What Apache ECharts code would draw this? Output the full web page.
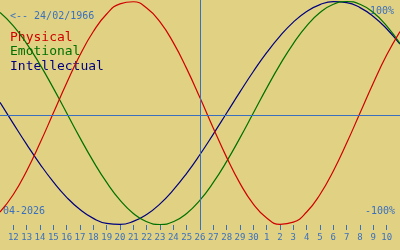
<!DOCTYPE html>
<html>
<head>
<meta charset="utf-8">
<script src="https://cdn.jsdelivr.net/npm/echarts@6/dist/echarts.min.js"></script>
<style>
html,body{margin:0;padding:0;background:#e0d282;}
#chart{width:400px;height:250px;}
</style>
</head>
<body>
<div id="chart"></div>
<script>
// day offset 0 = 11 April 2026 ... 30 = 11 May 2026
const dayOffsets = [0,1,2,3,4,5,6,7,8,9,10,11,12,13,14,15,16,17,18,19,20,21,22,23,24,25,26,27,28,29,30];
const dayNumbers = [11,12,13,14,15,16,17,18,19,20,21,22,23,24,25,26,27,28,29,30,1,2,3,4,5,6,7,8,9,10,11];
const tickDays = [1,2,3,4,5,6,7,8,9,10,11,12,13,14,15,16,17,18,19,20,21,22,23,24,25,26,27,28,29];
const physical = [-0.888,-0.731,-0.520,-0.270,0,0.270,0.520,0.731,0.888,0.979,0.998,0.942,0.817,0.631,0.398,0.136,-0.136,-0.398,-0.631,-0.817,-0.942,-0.998,-0.979,-0.888,-0.731,-0.520,-0.270,0,0.270,0.520,0.731];
const emotional = [0.901,0.782,0.623,0.434,0.223,0,-0.223,-0.434,-0.623,-0.782,-0.901,-0.975,-1,-0.975,-0.901,-0.782,-0.623,-0.434,-0.223,0,0.223,0.434,0.623,0.782,0.901,0.975,1,0.975,0.901,0.782,0.623];
const intellectual = [0.095,-0.095,-0.282,-0.458,-0.618,-0.756,-0.866,-0.945,-0.990,-0.999,-0.972,-0.910,-0.815,-0.690,-0.541,-0.372,-0.189,0,0.189,0.372,0.541,0.690,0.815,0.910,0.972,0.999,0.990,0.945,0.866,0.756,0.618];
const todayOffset = 15; // 26 April
const birthText = '<-- 24/02/1966';
const monthText = '04-2026';
const topText = '100%';
const bottomText = '-100%';
const legendNames = ['Physical','Emotional','Intellectual'];

const BLUE = '#3a6fc0';
const COLORS = ['#d00000','#007000','#000080'];
const MONO = '"DejaVu Sans Mono", monospace';

function pairs(vals){ return dayOffsets.map((d,i)=>[d, vals[i]]); }

const chart = echarts.init(document.getElementById('chart'), null, {renderer:'canvas'});
chart.setOption({
  backgroundColor: '#e0d282',
  animation: false,
  grid: {left: 0, right: 0, top: 0, bottom: 25, containLabel: false},
  xAxis: {
    type: 'value', min: 0, max: 30,
    axisLine: {show: false, onZero: false},
    splitLine: {show: false},
    axisTick: {show: true, length: 5, customValues: tickDays, lineStyle: {color: BLUE, width: 1}},
    axisLabel: {show: true, customValues: tickDays, margin: 8, color: BLUE, fontFamily: MONO, fontSize: 9,
      formatter: v => String(dayNumbers[v])}
  },
  yAxis: {
    type: 'value', min: -1.0045, max: 1.0135,
    axisLine: {show: false}, axisTick: {show: false}, axisLabel: {show: false}, splitLine: {show: false}
  },
  series: [
    {type: 'line', name: legendNames[2], data: pairs(intellectual), smooth: true, showSymbol: false,
      lineStyle: {color: COLORS[2], width: 1.2}, z: 2},
    {type: 'line', name: legendNames[1], data: pairs(emotional), smooth: true, showSymbol: false,
      lineStyle: {color: COLORS[1], width: 1.2}, z: 3},
    {type: 'line', name: legendNames[0], data: pairs(physical), smooth: true, showSymbol: false,
      lineStyle: {color: COLORS[0], width: 1.2}, z: 4,
      markLine: {silent: true, symbol: 'none', label: {show: false},
        lineStyle: {color: BLUE, width: 1, type: 'solid'},
        data: [{xAxis: todayOffset}, {yAxis: -0.022}]}}
  ],
  graphic: [
    {type: 'text', left: 10, top: 11, style: {text: birthText, fill: BLUE, font: '10px ' + MONO}},
    {type: 'text', right: 6, top: 6, style: {text: topText, fill: BLUE, font: '10px ' + MONO}},
    {type: 'text', right: 5, top: 206, style: {text: bottomText, fill: BLUE, font: '10px ' + MONO}},
    {type: 'text', left: 3, top: 206, style: {text: monthText, fill: BLUE, font: '10px ' + MONO}},
    {type: 'text', left: 10, top: 31, style: {text: legendNames[0], fill: COLORS[0], font: '13px ' + MONO}},
    {type: 'text', left: 10, top: 45.5, style: {text: legendNames[1], fill: COLORS[1], font: '13px ' + MONO}},
    {type: 'text', left: 10, top: 60, style: {text: legendNames[2], fill: COLORS[2], font: '13px ' + MONO}}
  ]
});
</script>
</body>
</html>
